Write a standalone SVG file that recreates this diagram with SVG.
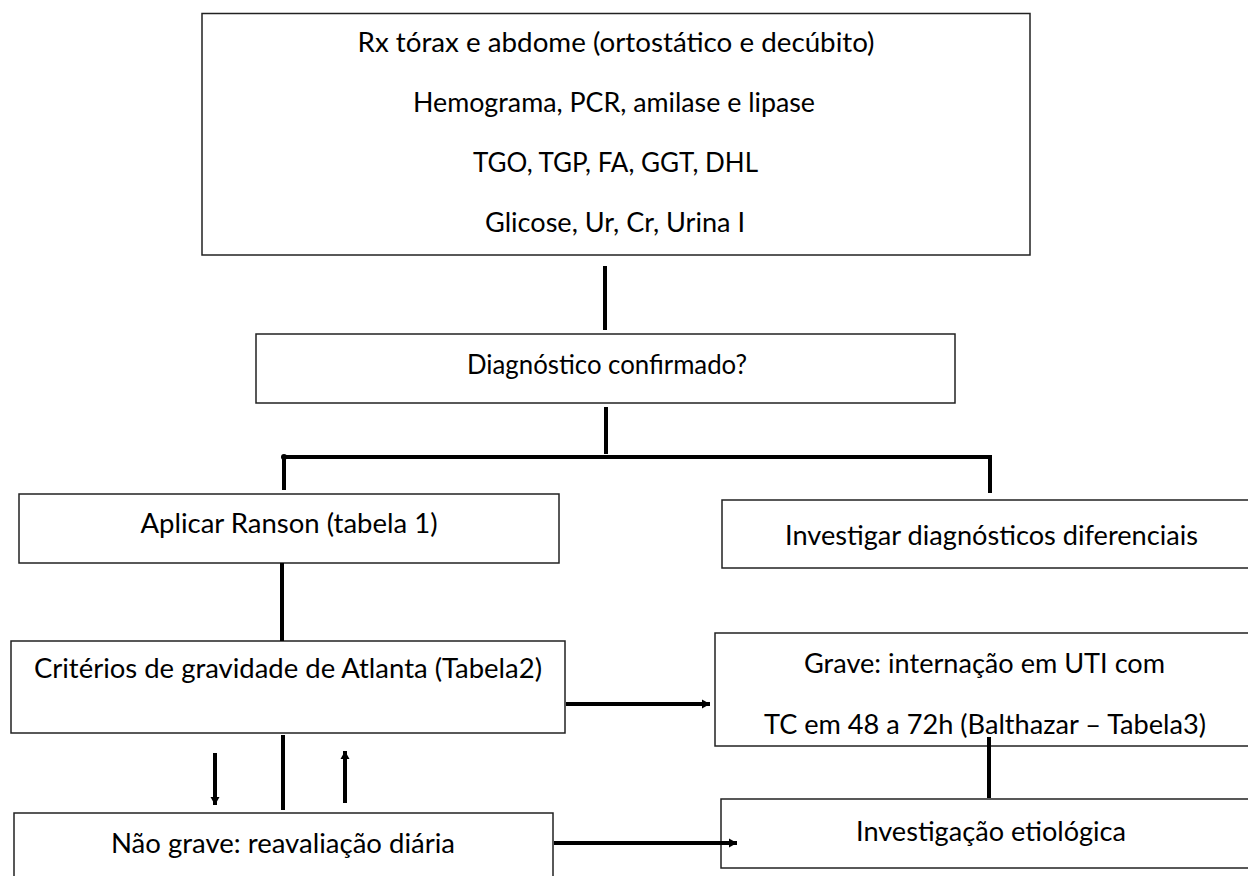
<svg xmlns="http://www.w3.org/2000/svg" width="1248" height="876" viewBox="0 0 1248 876">
<defs>
<style>
.box{fill:#fff;stroke:#222;stroke-width:1.5}
.t{font-family:Lato,"Open Sans","Liberation Sans",sans-serif;font-size:27px;fill:#000;text-anchor:middle}
.c{stroke:#000;stroke-width:4;fill:none}
</style>
<marker id="ah" markerUnits="userSpaceOnUse" markerWidth="9" markerHeight="10" refX="8" refY="5" orient="auto">
<path d="M0,0.5 L8,5 L0,9.5 z" fill="#000"/>
</marker>
</defs>
<rect width="1248" height="876" fill="#fff"/>

<g id="exames">
<rect class="box" x="202" y="13.5" width="828" height="241.5"/>
<text class="t" x="616" y="52" textLength="517" lengthAdjust="spacingAndGlyphs">Rx tórax e abdome (ortostático e decúbito)</text>
<text class="t" x="614" y="112" textLength="402" lengthAdjust="spacingAndGlyphs">Hemograma, PCR, amilase e lipase</text>
<text class="t" x="615.5" y="172" textLength="285" lengthAdjust="spacingAndGlyphs">TGO, TGP, FA, GGT, DHL</text>
<text class="t" x="615" y="232" textLength="260" lengthAdjust="spacingAndGlyphs">Glicose, Ur, Cr, Urina I</text>
</g>

<g id="diagnostico">
<rect class="box" x="256" y="334" width="699" height="69"/>
<text class="t" x="607" y="374" textLength="280" lengthAdjust="spacingAndGlyphs">Diagnóstico confirmado?</text>
</g>

<g id="ranson">
<rect class="box" x="19" y="494" width="540" height="69"/>
<text class="t" x="289" y="533" textLength="297" lengthAdjust="spacingAndGlyphs">Aplicar Ranson (tabela 1)</text>
</g>

<g id="diferenciais">
<rect class="box" x="722" y="500" width="540" height="68"/>
<text class="t" x="991.5" y="545" textLength="413" lengthAdjust="spacingAndGlyphs">Investigar diagnósticos diferenciais</text>
</g>

<g id="atlanta">
<rect class="box" x="11" y="641" width="554" height="92"/>
<text class="t" x="288" y="678" textLength="508" lengthAdjust="spacingAndGlyphs">Critérios de gravidade de Atlanta (Tabela2)</text>
</g>

<g id="grave">
<rect class="box" x="715" y="633" width="545" height="113"/>
<text class="t" x="984.5" y="673" textLength="361" lengthAdjust="spacingAndGlyphs">Grave: internação em UTI com</text>
<text class="t" x="985" y="734" textLength="442" lengthAdjust="spacingAndGlyphs">TC em 48 a 72h (Balthazar – Tabela3)</text>
</g>

<g id="nao-grave">
<rect class="box" x="14" y="813" width="539" height="80"/>
<text class="t" x="283" y="853" textLength="344" lengthAdjust="spacingAndGlyphs">Não grave: reavaliação diária</text>
</g>

<g id="etiologica">
<rect class="box" x="721" y="799" width="540" height="69"/>
<text class="t" x="991" y="841" textLength="270" lengthAdjust="spacingAndGlyphs">Investigação etiológica</text>
</g>

<g id="connectors">
<line class="c" x1="605" y1="266" x2="605" y2="330"/>
<line class="c" x1="606" y1="407" x2="606" y2="454"/>
<line class="c" x1="283" y1="457" x2="992" y2="457" stroke-width="4.5"/>
<circle cx="284" cy="457" r="3" fill="#000"/>
<line class="c" x1="284" y1="457" x2="284" y2="490"/>
<line class="c" x1="990" y1="457" x2="990" y2="493"/>
<line class="c" x1="282" y1="563" x2="282" y2="641"/>
<line class="c" x1="283" y1="735" x2="283" y2="810"/>
<line class="c" x1="215" y1="753" x2="215" y2="805" stroke-width="3.5" marker-end="url(#ah)"/>
<line class="c" x1="345" y1="803" x2="345" y2="751" stroke-width="3.5" marker-end="url(#ah)"/>
<line class="c" x1="566" y1="704" x2="710" y2="704" stroke-width="4.5" marker-end="url(#ah)"/>
<line class="c" x1="554" y1="843" x2="737" y2="843" stroke-width="5" marker-end="url(#ah)"/>
<line class="c" x1="989" y1="737" x2="989" y2="798"/>
</g>
</svg>
